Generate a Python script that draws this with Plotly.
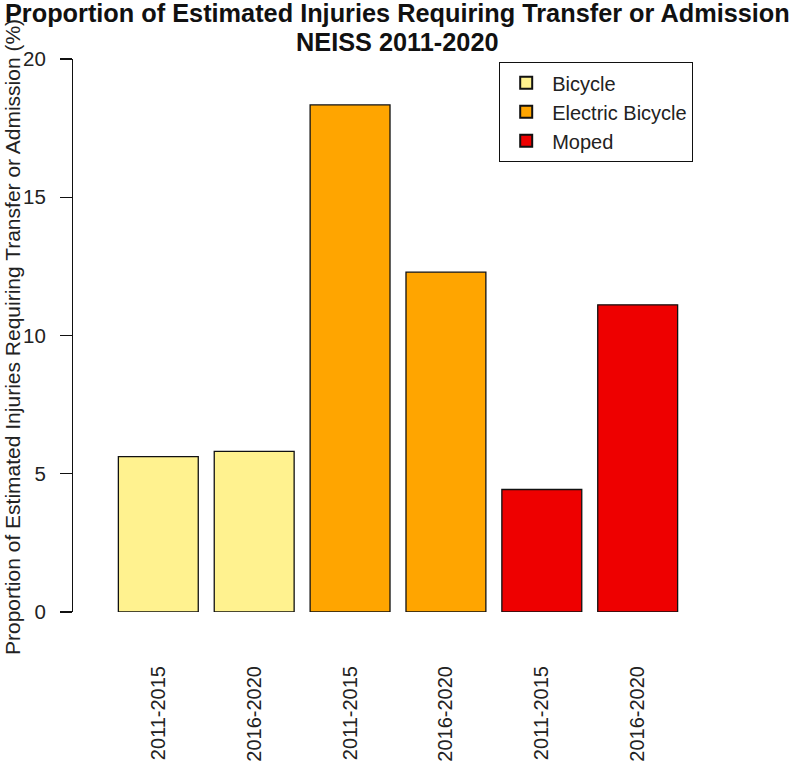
import plotly.graph_objects as go

groups = ["Bicycle", "Electric Bicycle", "Moped"]
periods = ["2011-2015", "2016-2020"]
values = {
    "Bicycle": [5.62, 5.81],
    "Electric Bicycle": [18.34, 12.29],
    "Moped": [4.43, 11.11],
}
colors = {"Bicycle": "#FFF28F", "Electric Bicycle": "#FFA500", "Moped": "#EE0000"}

title_lines = ["Proportion of Estimated Injuries Requiring Transfer or Admission", "NEISS 2011-2020"]
ylab = "Proportion of Estimated Injuries Requiring Transfer or Admission (%)"

FONT = "Liberation Sans, Arial, sans-serif"
W, H = 789, 764
ML, MR, MT, MB = 72, 89, 59, 152
plot_w = W - ML - MR
plot_h = H - MT - MB


def px_x(p):
    return (p - ML) / plot_w


def px_y(p):
    return (H - MB - p) / plot_h


# R barplot layout: width 1, space 0.2
bar_w = 1.0
space = 0.2
xs, labels = [], []
fig = go.Figure()
i = 0
for g in groups:
    gx = []
    for p, v in zip(periods, values[g]):
        x = space + i * (bar_w + space) + bar_w / 2
        gx.append(x)
        xs.append(x)
        labels.append(p)
        i += 1
    fig.add_trace(go.Bar(
        x=gx, y=values[g], name=g, width=bar_w,
        marker=dict(color=colors[g], line=dict(color="#111111", width=1.3)),
    ))

n = len(xs)
xmin, xmax = space, n * (bar_w + space)
pad = 0.04 * (xmax - xmin)
dom0 = px_x(96)

annotations = [
    dict(text="<b>%s</b>" % title_lines[0], xref="paper", yref="paper",
         x=px_x(397), y=px_y(13), xanchor="center", yanchor="middle",
         showarrow=False, font=dict(size=25.3, color="#111111")),
    dict(text="<b>%s</b>" % title_lines[1], xref="paper", yref="paper",
         x=px_x(397), y=px_y(42), xanchor="center", yanchor="middle",
         showarrow=False, font=dict(size=25.3, color="#111111")),
    dict(text=ylab, textangle=-90, xref="paper", yref="paper",
         x=px_x(12), y=px_y(337), xanchor="center", yanchor="middle",
         showarrow=False, font=dict(size=21, color="#222222")),
]

fig.update_layout(
    width=W, height=H,
    margin=dict(l=ML, r=MR, t=MT, b=MB, autoexpand=False),
    paper_bgcolor="white", plot_bgcolor="white",
    font=dict(family=FONT, size=20, color="#222222"),
    showlegend=True,
    legend=dict(
        x=px_x(499), y=px_y(62),
        xanchor="left", yanchor="top",
        bordercolor="#111111", borderwidth=1.2, bgcolor="white",
        font=dict(size=20, color="#222222"),
        tracegroupgap=0, itemsizing="constant", itemwidth=42,
    ),
    xaxis=dict(
        domain=[dom0, 1], range=[xmin - pad, xmax + pad],
        tickmode="array", tickvals=xs, ticktext=labels, tickangle=-90,
        showline=False, showgrid=False, zeroline=False, ticks="",
        ticklabelstandoff=49, tickfont=dict(size=20),
    ),
    yaxis=dict(
        range=[0, 20], anchor="free", position=0,
        tickmode="array", tickvals=[0, 5, 10, 15, 20],
        showline=True, linecolor="#111111", linewidth=1.3,
        ticks="outside", ticklen=12, tickcolor="#111111", tickwidth=1.3,
        showgrid=False, zeroline=False, ticklabelstandoff=10,
        tickfont=dict(size=20.5),
    ),
    bargap=0,
    annotations=annotations,
)

fig.write_html(
    "out.html",
    config={"displayModeBar": False, "staticPlot": True},
    post_script="document.body.style.margin='0';document.body.style.overflow='hidden';",
)
